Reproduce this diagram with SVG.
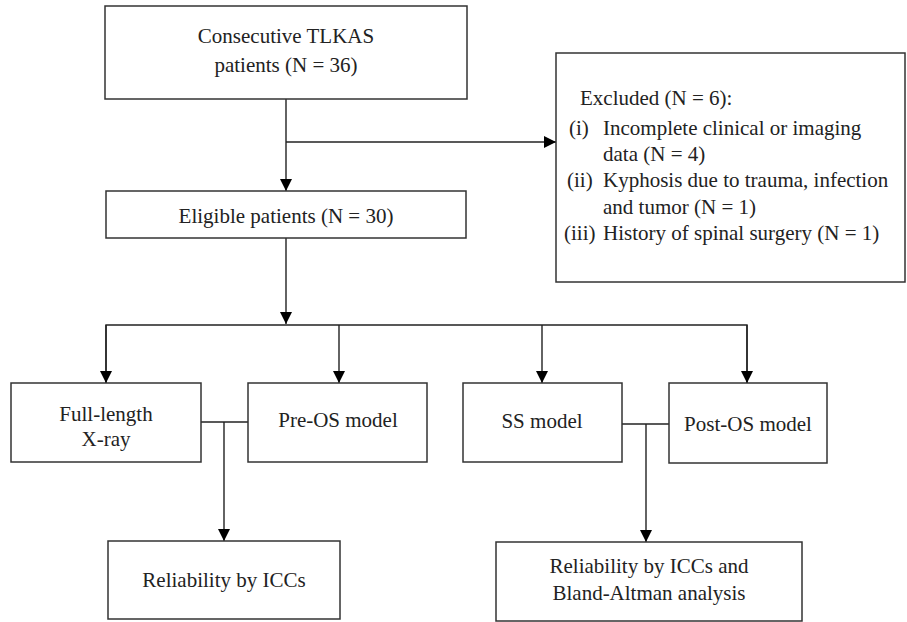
<svg xmlns="http://www.w3.org/2000/svg" width="907" height="622" viewBox="0 0 907 622">
<defs>
<style>
.box{fill:#fff;stroke:#333;stroke-width:1.5}
.t{font-family:"Liberation Serif","Times New Roman",serif;font-size:21px;fill:#222}
.m{text-anchor:middle}
.c{fill:none;stroke:#222;stroke-width:1.4}
</style>
<marker id="ah" viewBox="0 0 12 12" refX="12" refY="6" markerWidth="12" markerHeight="12" markerUnits="userSpaceOnUse" orient="auto">
<path d="M0,0 L12,6 L0,12 Z" fill="#000"/>
</marker>
</defs>
<rect width="907" height="622" fill="#fff"/>
<g id="connectors">
<line class="c" x1="286" y1="99" x2="286" y2="191" marker-end="url(#ah)"/>
<line class="c" x1="286" y1="142" x2="556" y2="142" marker-end="url(#ah)"/>
<line class="c" x1="286" y1="238" x2="286" y2="324" marker-end="url(#ah)"/>
<polyline class="c" points="106,383 106,325 747,325 747,383"/>
<line class="c" x1="106" y1="325" x2="106" y2="383" marker-end="url(#ah)"/>
<line class="c" x1="339" y1="325" x2="339" y2="383" marker-end="url(#ah)"/>
<line class="c" x1="542" y1="325" x2="542" y2="383" marker-end="url(#ah)"/>
<line class="c" x1="747" y1="325" x2="747" y2="383" marker-end="url(#ah)"/>
<line class="c" x1="201" y1="422" x2="248" y2="422"/>
<line class="c" x1="224" y1="422" x2="224" y2="541" marker-end="url(#ah)"/>
<line class="c" x1="622" y1="424" x2="669" y2="424"/>
<line class="c" x1="646" y1="424" x2="646" y2="542" marker-end="url(#ah)"/>
</g>
<g id="consecutive">
<rect class="box" x="105" y="6" width="362" height="93"/>
<text class="t m" x="286" y="43">Consecutive TLKAS</text>
<text class="t m" x="286" y="72">patients (N = 36)</text>
</g>
<g id="excluded">
<rect class="box" x="556" y="53" width="349" height="229"/>
<text class="t" x="580" y="105">Excluded (N = 6):</text>
<text class="t" x="569" y="135">(i)</text>
<text class="t" x="603" y="135">Incomplete clinical or imaging</text>
<text class="t" x="603" y="161">data (N = 4)</text>
<text class="t" x="567" y="187">(ii)</text>
<text class="t" x="603" y="187">Kyphosis due to trauma, infection</text>
<text class="t" x="603" y="214">and tumor (N = 1)</text>
<text class="t" x="564" y="240">(iii)</text>
<text class="t" x="603" y="240">History of spinal surgery (N = 1)</text>
</g>
<g id="eligible">
<rect class="box" x="106" y="191" width="360" height="47"/>
<text class="t m" x="286" y="223">Eligible patients (N = 30)</text>
</g>
<g id="fulllength">
<rect class="box" x="11" y="383" width="190" height="79"/>
<text class="t m" x="106" y="421">Full-length</text>
<text class="t m" x="106" y="446">X-ray</text>
</g>
<g id="preos">
<rect class="box" x="248" y="383" width="179" height="79"/>
<text class="t m" x="338" y="427">Pre-OS model</text>
</g>
<g id="ss">
<rect class="box" x="463" y="383" width="159" height="79"/>
<text class="t m" x="542" y="428">SS model</text>
</g>
<g id="postos">
<rect class="box" x="669" y="383" width="158" height="80"/>
<text class="t m" x="748" y="431">Post-OS model</text>
</g>
<g id="reliability1">
<rect class="box" x="108" y="541" width="232" height="78"/>
<text class="t m" x="224" y="587">Reliability by ICCs</text>
</g>
<g id="reliability2">
<rect class="box" x="496" y="542" width="306" height="79"/>
<text class="t m" x="649" y="573">Reliability by ICCs and</text>
<text class="t m" x="649" y="600">Bland-Altman analysis</text>
</g>
</svg>
